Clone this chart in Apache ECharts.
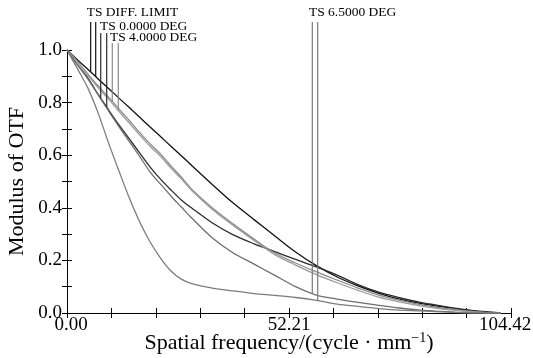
<!DOCTYPE html>
<html><head><meta charset="utf-8">
<script src="https://cdn.jsdelivr.net/npm/echarts@6/dist/echarts.min.js"></script>
<style>html,body{margin:0;padding:0;background:#fff}#c{width:533px;height:358px}</style>
</head><body><div id="c"></div>
<script>
// spatial frequency samples (cycle/mm)
const freq = [0, 2.44, 4.89, 7.33, 9.78, 12.22, 14.66, 17.11, 19.55, 21.99, 24.44, 26.88, 29.33, 34.21, 39.10, 43.99, 48.88, 53.76, 58.65, 63.54, 68.43, 73.31, 78.20, 83.09, 87.98, 92.86, 97.75, 102.07];
// MTF curves
const diffLimit = [1, 0.963, 0.927, 0.890, 0.854, 0.817, 0.781, 0.744, 0.707, 0.671, 0.634, 0.598, 0.561, 0.488, 0.418, 0.355, 0.293, 0.232, 0.180, 0.137, 0.103, 0.075, 0.053, 0.037, 0.024, 0.013, 0.004, 0];
const deg0 = [1, 0.944, 0.894, 0.831, 0.772, 0.715, 0.662, 0.608, 0.555, 0.509, 0.468, 0.430, 0.399, 0.342, 0.297, 0.263, 0.233, 0.204, 0.175, 0.144, 0.108, 0.079, 0.058, 0.040, 0.027, 0.015, 0.006, 0];
const deg4T = [1, 0.957, 0.909, 0.863, 0.821, 0.776, 0.732, 0.686, 0.643, 0.605, 0.559, 0.517, 0.471, 0.399, 0.338, 0.281, 0.228, 0.190, 0.156, 0.125, 0.095, 0.068, 0.049, 0.032, 0.019, 0.010, 0.002, 0];
const deg4S = [1, 0.955, 0.905, 0.857, 0.813, 0.767, 0.722, 0.677, 0.634, 0.596, 0.551, 0.510, 0.466, 0.394, 0.333, 0.276, 0.222, 0.182, 0.146, 0.115, 0.086, 0.060, 0.042, 0.027, 0.016, 0.008, 0.002, 0];
const deg65T = [1, 0.944, 0.890, 0.829, 0.768, 0.709, 0.652, 0.595, 0.536, 0.490, 0.445, 0.403, 0.361, 0.285, 0.228, 0.186, 0.143, 0.100, 0.068, 0.053, 0.040, 0.029, 0.019, 0.011, 0.006, 0.002, 0, 0];
const deg65S = [1, 0.929, 0.856, 0.760, 0.646, 0.540, 0.437, 0.346, 0.270, 0.209, 0.160, 0.129, 0.112, 0.095, 0.084, 0.074, 0.067, 0.059, 0.048, 0.034, 0.025, 0.017, 0.011, 0.008, 0.004, 0.001, 0, 0];
// legend label lines
const labelNames = ['TS DIFF. LIMIT', 'TS 0.0000 DEG', 'TS 4.0000 DEG', 'TS 6.5000 DEG'];
const labelLineX = [[5.57, 6.75], [7.93, 9.34], [10.65, 12.06], [57.69, 58.96]];
const labelLineTop = [1.106, 1.065, 1.027, 1.106];
const labelLineEnd = [[0.917, 0.899], [0.817, 0.783], [0.805, 0.770], [0.072, 0.047]];
const labelTextX = [4.63, 7.76, 10.11, 56.91];
const labelTextY = [1.141, 1.089, 1.048, 1.141];
// axis ticks
const xMax = 104.42, xStep = 52.21;
const yMax = 1.0, yStep = 0.2;

const FONT = 'Liberation Serif';
const curveColors = ['#111111', '#2b2b2b', '#8a8a8a', '#9a9a9a', '#6e6e6e', '#7c7c7c'];
const labelColors = ['#111111', '#2b2b2b', '#8a8a8a', '#7a7a7a'];
const curves = [diffLimit, deg0, deg4T, deg4S, deg65T, deg65S];

const series = [];
curves.forEach((arr, i) => {
  series.push({
    type: 'line', data: freq.map((f, j) => [f, arr[j]]), showSymbol: false, symbol: 'none',
    smooth: 0.3, lineStyle: { color: curveColors[i], width: 1.3 }, silent: true, z: 3
  });
});
labelLineX.forEach((xs, i) => {
  xs.forEach((x, k) => {
    series.push({
      type: 'line', data: [[x, labelLineTop[i]], [x, labelLineEnd[i][k]]], symbol: 'none',
      clip: false, lineStyle: { color: labelColors[i], width: 1.2 }, silent: true, z: 4
    });
  });
});

const axisLineS = { show: true, lineStyle: { color: '#000', width: 1 } };
const tickS = { show: true, inside: true, length: 5, lineStyle: { color: '#000' } };

const chart = echarts.init(document.getElementById('c'), null, { renderer: 'canvas' });
const option = {
  animation: false,
  backgroundColor: '#fff',
  grid: { left: 67, right: 22, top: 50, bottom: 45, containLabel: false, outerBoundsMode: 'none' },
  xAxis: [{
    type: 'value', min: 0, max: xMax, interval: xStep, position: 'bottom',
    axisLine: axisLineS, axisTick: tickS,
    minorTick: { show: true, splitNumber: 5, length: 5, lineStyle: { color: '#000' } },
    splitLine: { show: false }, minorSplitLine: { show: false },
    axisLabel: {
      margin: 3, color: '#000', fontFamily: FONT, fontSize: 19,
      formatter: v => {
        const s = v.toFixed(2);
        if (v === 0) return '{l|' + s + '}';
        if (Math.abs(v - xMax) < 1e-6) return '{r|' + s + '}';
        return s;
      },
      rich: {
        l: { fontFamily: FONT, fontSize: 19, color: '#000', padding: [0, 0, 0, 8] },
        r: { fontFamily: FONT, fontSize: 19, color: '#000', padding: [0, 12, 0, 0] }
      }
    },
    name: '{a|Spatial frequency/(cycle · mm}{s|−1}{a|)}',
    nameLocation: 'middle', nameGap: 18, nameMoveOverlap: false,
    nameTextStyle: {
      rich: {
        a: { fontFamily: FONT, fontSize: 22, color: '#000', lineHeight: 25 },
        s: { fontFamily: FONT, fontSize: 14, color: '#000', verticalAlign: 'top', lineHeight: 14 }
      }
    }
  }, {
    type: 'value', min: 0, max: xMax, interval: xStep, position: 'top',
    axisLine: axisLineS, axisTick: tickS,
    minorTick: { show: true, splitNumber: 5, length: 5, lineStyle: { color: '#000' } },
    splitLine: { show: false }, axisLabel: { show: false }
  }],
  yAxis: [{
    type: 'value', min: 0, max: yMax, interval: yStep, position: 'left',
    axisLine: axisLineS, axisTick: tickS,
    minorTick: { show: true, splitNumber: 2, length: 5, lineStyle: { color: '#000' } },
    splitLine: { show: false }, minorSplitLine: { show: false },
    axisLabel: { margin: 5, color: '#000', fontFamily: FONT, fontSize: 19, formatter: v => v.toFixed(1) },
    name: 'Modulus of OTF', nameLocation: 'middle', nameGap: 39, nameMoveOverlap: false,
    nameTextStyle: { fontFamily: FONT, fontSize: 22, color: '#000' }
  }, {
    type: 'value', min: 0, max: yMax, interval: yStep, position: 'right',
    axisLine: axisLineS, axisTick: tickS,
    minorTick: { show: true, splitNumber: 2, length: 5, lineStyle: { color: '#000' } },
    splitLine: { show: false }, axisLabel: { show: false }
  }],
  series: series
};
chart.setOption(option);

const graphics = labelNames.map((name, i) => {
  const p = chart.convertToPixel({ gridIndex: 0 }, [labelTextX[i], labelTextY[i]]);
  return {
    type: 'text', x: p[0], y: p[1], z: 10,
    style: { text: name, fill: '#000', font: '13.5px "' + FONT + '"', textAlign: 'left', textVerticalAlign: 'middle' }
  };
});
chart.setOption({ graphic: graphics });
</script>
</body></html>
